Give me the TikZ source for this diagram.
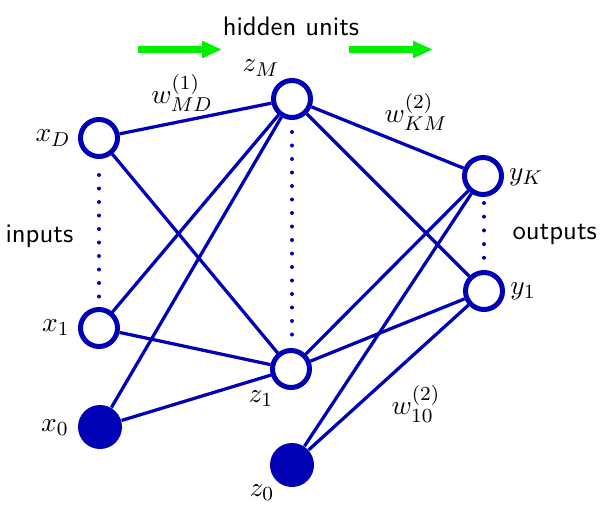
\documentclass[tikz,border=0pt]{standalone}
\usetikzlibrary{arrows.meta}
\definecolor{netblue}{RGB}{0,0,180}
\definecolor{arrowgreen}{RGB}{0,240,0}
\begin{document}
\begin{tikzpicture}[x=0.4pt,y=-0.4pt,
 unit/.style={circle,draw=netblue,line width=2pt,fill=white,minimum size=14.8pt,inner sep=0pt},
 bias/.style={circle,fill=netblue,minimum size=17.6pt,inner sep=0pt},
 conn/.style={draw=netblue,line width=1.3pt},
 dotline/.style={netblue,line width=1.6pt,line cap=round},
 lbl/.style={inner sep=0pt,font=\fontsize{10.95}{13}\selectfont},
 txt/.style={inner sep=0pt,font=\sffamily\fontsize{10.7}{13}\selectfont},
 flow/.style={arrowgreen,line width=2.8pt,-{Triangle[length=8pt,width=6.4pt]}}]
\useasboundingbox (0,0) rectangle (613,513);
% units
\node[unit] (xD) at (99,138) {};
\node[unit] (x1) at (99,328) {};
\node[bias] (x0) at (100,427) {};
\node[unit] (zM) at (292,99) {};
\node[unit] (z1) at (291,369) {};
\node[bias] (z0) at (292,465) {};
\node[unit] (yK) at (483,176) {};
\node[unit] (y1) at (484,291) {};
% connections
\foreach \a in {xD,x1,x0} {\foreach \b in {zM,z1} {\draw[conn] (\a) -- (\b);}}
\foreach \a in {zM,z1,z0} {\foreach \b in {yK,y1} {\draw[conn] (\a) -- (\b);}}
% dotted columns
\coordinate (dxa) at (99,175);
\coordinate (dxb) at (99,297);
\coordinate (dza) at (292,132);
\coordinate (dzb) at (292,335);
\coordinate (dya) at (484,203);
\coordinate (dyb) at (484,258);
\draw[dotline,dash pattern=on 0pt off 5.4pt] (dxa) -- (dxb);
\draw[dotline,dash pattern=on 0pt off 5.4pt] (dza) -- (dzb);
\draw[dotline,dash pattern=on 0pt off 5.48pt] (dya) -- (dyb);
% labels
\node[lbl] (lxD) at (53,138) {$x_D$};
\node[lbl] (lx1) at (56,328) {$x_1$};
\node[lbl] (lx0) at (55,428) {$x_0$};
\node[lbl] (lzM) at (261,68) {$z_M$};
\node[lbl] (lz1) at (261,399) {$z_1$};
\node[lbl] (lz0) at (262,493) {$z_0$};
\node[lbl] (lyK) at (526,177) {$y_K$};
\node[lbl] (ly1) at (523,291) {$y_1$};
\node[lbl] (wMD) at (182,93) {$w^{(1)}_{MD}$};
\node[lbl] (wKM) at (416,112) {$w^{(2)}_{KM}$};
\node[lbl] (w10) at (416,404) {$w^{(2)}_{10}$};
% texts
\node[txt,anchor=base] (hid) at (291,35) {hidden units};
\node[txt,anchor=base west] (inp) at (5,242) {inputs};
\node[txt,anchor=base west] (outp) at (512,239) {outputs};
% green arrows
\coordinate (ga1) at (138,49.5);
\coordinate (gb1) at (222,49.5);
\coordinate (ga2) at (349,49.5);
\coordinate (gb2) at (433,49.5);
\draw[flow] (ga1) -- (gb1);
\draw[flow] (ga2) -- (gb2);
\end{tikzpicture}
\end{document}
